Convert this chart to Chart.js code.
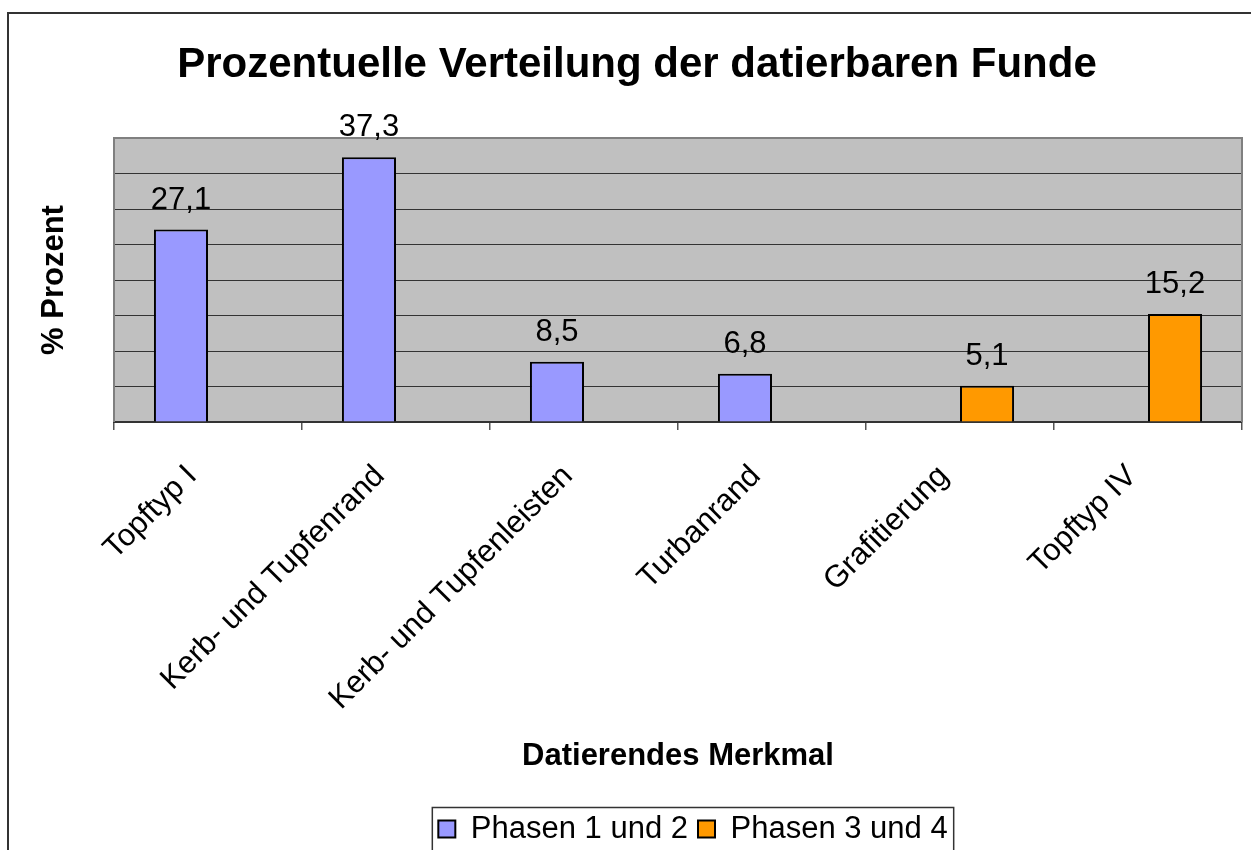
<!DOCTYPE html>
<html>
<head>
<meta charset="utf-8">
<script src="https://cdn.jsdelivr.net/npm/chart.js@4.4.0/dist/chart.umd.min.js"></script>
<style>
  html, body { margin: 0; padding: 0; background: #fff; }
  #wrap { width: 1251px; height: 850px; }
</style>
</head>
<body>
<div id="wrap"><canvas id="chart" width="1251" height="850"></canvas></div>
<script>
// Data
const categories = ["Topftyp I", "Kerb- und Tupfenrand", "Kerb- und Tupfenleisten", "Turbanrand", "Grafitierung", "Topftyp IV"];
const phasen12 = [27.1, 37.3, 8.5, 6.8, null, null];
const phasen34 = [null, null, null, null, 5.1, 15.2];
const seriesNames = ["Phasen 1 und 2", "Phasen 3 und 4"];
const yTicks = { min: 0, max: 40, step: 5 };

const FONT = "'Liberation Sans', Arial, sans-serif";
Chart.defaults.color = "#000";
Chart.defaults.font.family = FONT;

// Frame, plot background and plot border
const backdrop = {
    id: "backdrop",
    beforeDraw(chart) {
        const ctx = chart.ctx;
        const a = chart.chartArea;
        ctx.save();
        ctx.fillStyle = "#fff";
        ctx.fillRect(0, 0, chart.width, chart.height);
        ctx.strokeStyle = "#333";
        ctx.lineWidth = 2;
        ctx.beginPath();
        ctx.moveTo(8, 850);
        ctx.lineTo(8, 13);
        ctx.lineTo(1251, 13);
        ctx.stroke();
        ctx.fillStyle = "#c0c0c0";
        ctx.fillRect(a.left, a.top, a.right - a.left, a.bottom - a.top);
        ctx.restore();
    },
    afterDatasetsDraw(chart) {
        const ctx = chart.ctx;
        const a = chart.chartArea;
        ctx.save();
        ctx.strokeStyle = "#808080";
        ctx.lineWidth = 2;
        ctx.beginPath();
        ctx.moveTo(a.left, a.bottom);
        ctx.lineTo(a.left, a.top);
        ctx.lineTo(a.right, a.top);
        ctx.lineTo(a.right, a.bottom);
        ctx.stroke();
        ctx.restore();
    }
};

// Value labels above the bars
const valueLabels = {
    id: "valueLabels",
    afterDatasetsDraw(chart) {
        const ctx = chart.ctx;
        ctx.save();
        ctx.font = "31px " + FONT;
        ctx.fillStyle = "#000";
        ctx.textAlign = "center";
        ctx.textBaseline = "alphabetic";
        chart.data.datasets.forEach((ds, i) => {
            chart.getDatasetMeta(i).data.forEach((bar, j) => {
                const v = ds.data[j];
                if (v === null || v === undefined) return;
                ctx.fillText(String(v).replace(".", ","), bar.x, bar.y - 21);
            });
        });
        ctx.restore();
    }
};

// Legend position and frame
const legendFrame = {
    id: "legendFrame",
    afterLayout(chart) {
        const lg = chart.legend;
        lg.left += 56; lg.right += 56;
        lg.top += 4.5; lg.bottom += 4.5;
    },
    afterDraw(chart) {
        const boxes = chart.legend.legendHitBoxes;
        if (!boxes || !boxes.length) return;
        const l = Math.min(...boxes.map(b => b.left)) - 6;
        const r = Math.max(...boxes.map(b => b.left + b.width)) + 6;
        const t = Math.min(...boxes.map(b => b.top)) - 6;
        const ctx = chart.ctx;
        ctx.save();
        ctx.strokeStyle = "#333";
        ctx.lineWidth = 1.5;
        ctx.strokeRect(l, t, r - l, 60);
        ctx.restore();
    }
};

new Chart(document.getElementById("chart"), {
    type: "bar",
    data: {
        labels: categories,
        datasets: [
            { label: seriesNames[0], data: phasen12, backgroundColor: "#9999ff", borderColor: "#000", borderWidth: 2 },
            { label: seriesNames[1], data: phasen34, backgroundColor: "#ff9900", borderColor: "#000", borderWidth: 2 }
        ]
    },
    options: {
        responsive: false,
        animation: false,
        events: [],
        categoryPercentage: 0.575,
        barPercentage: 1,
        layout: { padding: { left: 32, right: 9, top: 14, bottom: 0 } },
        plugins: {
            title: {
                display: true,
                text: "Prozentuelle Verteilung der datierbaren Funde",
                font: { size: 42, weight: "bold" },
                padding: { top: 26, bottom: 47.6 }
            },
            legend: {
                position: "bottom",
                labels: {
                    font: { size: 31 },
                    boxWidth: 17,
                    boxHeight: 17,
                    padding: 10
                }
            },
            tooltip: { enabled: false }
        },
        scales: {
            x: {
                grid: { drawOnChartArea: false, tickLength: 8, color: "#555", lineWidth: 1.5 },
                border: { color: "#333", width: 2 },
                ticks: { font: { size: 31 }, minRotation: 45, maxRotation: 45, autoSkip: false, padding: 28, labelOffset: -16 },
                title: {
                    display: true,
                    text: "Datierendes Merkmal",
                    font: { size: 31, weight: "bold" },
                    padding: { top: 0, bottom: 24.4 }
                },
                afterFit(scale) { scale.height = 377; }
            },
            y: {
                min: yTicks.min,
                max: yTicks.max,
                ticks: { stepSize: yTicks.step, display: false },
                grid: { color: "#333", lineWidth: 1, drawTicks: false },
                border: { display: false },
                title: {
                    display: true,
                    text: "% Prozent",
                    font: { size: 31, weight: "bold" },
                    padding: { top: 4, bottom: 0 }
                },
                afterFit(scale) { scale.width = 82; }
            }
        }
    },
    plugins: [backdrop, valueLabels, legendFrame]
});
</script>
</body>
</html>
